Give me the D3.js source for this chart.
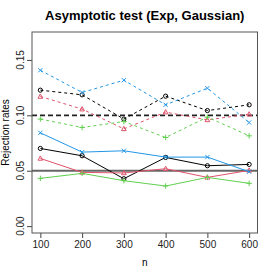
<!DOCTYPE html>
<html>
<head>
<meta charset="utf-8">
<script src="https://cdn.jsdelivr.net/npm/d3@7"></script>
<style>
  body { margin: 0; background: #fff; }
  text { font-family: "Liberation Sans", Arial, sans-serif; }
</style>
</head>
<body>
<script>
// sample sizes on the x axis
var sizes = [100, 200, 300, 400, 500, 600];
var xTicks = [100, 200, 300, 400, 500, 600];
var yTicks = [0.00, 0.05, 0.10, 0.15];

// rejection rates, dashed lines (upper group)
var blackDashed = [0.1227, 0.1185, 0.0966, 0.1173, 0.1043, 0.1095];
var blueDashed  = [0.1407, 0.1206, 0.1317, 0.1095, 0.1245, 0.0935];
var pinkDashed  = [0.1170, 0.1056, 0.0878, 0.1029, 0.0959, 0.1010];
var greenDashed = [0.0966, 0.0890, 0.0944, 0.0800, 0.0984, 0.0815];
// rejection rates, solid lines (lower group)
var blackSolid = [0.0701, 0.0635, 0.0428, 0.0620, 0.0545, 0.0557];
var blueSolid  = [0.0842, 0.0668, 0.0680, 0.0623, 0.0623, 0.0491];
var pinkSolid  = [0.0611, 0.0485, 0.0480, 0.0518, 0.0440, 0.0503];
var greenSolid = [0.0431, 0.0476, 0.0410, 0.0362, 0.0440, 0.0386];

// reference levels
var levelSolid = 0.05, levelDashed = 0.10;

var series = [
    { values: blackSolid,  color: "#000000", pch: "circle",   dash: null },
    { values: pinkSolid,   color: "#DF536B", pch: "triangle", dash: null },
    { values: greenSolid,  color: "#61D04F", pch: "plus",     dash: null },
    { values: blueSolid,   color: "#2297E6", pch: "cross",    dash: null },
    { values: blackDashed, color: "#000000", pch: "circle",   dash: "3,3" },
    { values: pinkDashed,  color: "#DF536B", pch: "triangle", dash: "3,3" },
    { values: greenDashed, color: "#61D04F", pch: "plus",     dash: "3,3" },
    { values: blueDashed,  color: "#2297E6", pch: "cross",    dash: "3,3" }
];

var W = 274, H = 274;
var margin = { top: 32, right: 16.5, bottom: 41, left: 32 },
    width = W - margin.left - margin.right,
    height = H - margin.top - margin.bottom;

// R style 4% padding on the x range
var xScale = d3.scaleLinear().domain([80, 620]).range([0, width]);
var yScale = d3.scaleLinear().domain([-0.0062, 0.1752]).range([height, 0]);

var svg = d3.select("body").append("svg")
    .attr("width", W)
    .attr("height", H);

var g = svg.append("g")
    .attr("transform", "translate(" + margin.left + "," + margin.top + ")");

// title
svg.append("text")
    .attr("x", margin.left + width / 2)
    .attr("y", 20)
    .attr("text-anchor", "middle")
    .style("font-weight", "bold")
    .style("font-size", "13px")
    .text("Asymptotic test (Exp, Gaussian)");

// x axis
var xAxis = d3.axisBottom(xScale).tickValues(xTicks).tickSize(5).tickPadding(3).tickFormat(d3.format("d"));
var gx = g.append("g")
    .attr("transform", "translate(0," + height + ")")
    .call(xAxis);
gx.select(".domain").remove();
gx.selectAll("line").attr("stroke", "#444");
gx.selectAll("text").style("font-size", "10px").attr("fill", "#222")
    .attr("font-family", "Liberation Sans, Arial, sans-serif");

// y axis, labels drawn by hand so they can be rotated like R's
var yAxis = d3.axisLeft(yScale).tickValues(yTicks).tickSize(5).tickFormat("");
var gy = g.append("g").call(yAxis);
gy.select(".domain").remove();
gy.selectAll("line").attr("stroke", "#444");

g.selectAll(".ylab")
    .data(yTicks)
    .enter().append("text")
    .attr("class", "ylab")
    .attr("transform", "rotate(-90)")
    .attr("x", function (d) { return -yScale(d); })
    .attr("y", -8)
    .attr("text-anchor", "middle")
    .style("font-size", "10px")
    .attr("fill", "#222")
    .text(d3.format(".2f"));

// axis labels
svg.append("text")
    .attr("x", margin.left + width / 2)
    .attr("y", 266)
    .attr("text-anchor", "middle")
    .style("font-size", "10px")
    .text("n");
svg.append("text")
    .attr("transform", "rotate(-90)")
    .attr("x", -(margin.top + height / 2))
    .attr("y", 9)
    .attr("text-anchor", "middle")
    .style("font-size", "10px")
    .text("Rejection rates");

// reference lines
g.append("line")
    .attr("x1", 0).attr("x2", width)
    .attr("y1", yScale(levelSolid)).attr("y2", yScale(levelSolid))
    .attr("stroke", "#666").attr("stroke-width", 2);
g.append("line")
    .attr("x1", 0).attr("x2", width)
    .attr("y1", yScale(levelDashed)).attr("y2", yScale(levelDashed))
    .attr("stroke", "#222").attr("stroke-width", 1.6)
    .attr("stroke-dasharray", "5,3");

var line = d3.line()
    .x(function (d, i) { return xScale(sizes[i]); })
    .y(function (d) { return yScale(d); });

// point symbol paths, R pch 1-4
function symbol(type) {
    var s = 2.1;
    if (type == "circle") return d3.symbol().type(d3.symbolCircle).size(Math.PI * s * s)();
    if (type == "triangle") return "M0," + (-s * 1.2) + "L" + (s * 1.1) + "," + (s * 0.85) + "L" + (-s * 1.1) + "," + (s * 0.85) + "Z";
    if (type == "plus") return "M" + (-s * 1.3) + ",0H" + (s * 1.3) + "M0," + (-s * 1.3) + "V" + (s * 1.3);
    return "M" + (-s) + "," + (-s) + "L" + s + "," + s + "M" + (-s) + "," + s + "L" + s + "," + (-s);
}

series.forEach(function (s) {
    g.append("path")
        .datum(s.values)
        .attr("fill", "none")
        .attr("stroke", s.color)
        .attr("stroke-width", 1)
        .attr("stroke-dasharray", s.dash)
        .attr("d", line);
    g.selectAll(null)
        .data(s.values)
        .enter().append("path")
        .attr("transform", function (d, i) { return "translate(" + xScale(sizes[i]) + "," + yScale(d) + ")"; })
        .attr("d", symbol(s.pch))
        .attr("fill", "none")
        .attr("stroke", s.color)
        .attr("stroke-width", 1);
});

// box
g.append("rect")
    .attr("width", width).attr("height", height)
    .attr("fill", "none").attr("stroke", "#555").attr("stroke-width", 1);
</script>
</body>
</html>
